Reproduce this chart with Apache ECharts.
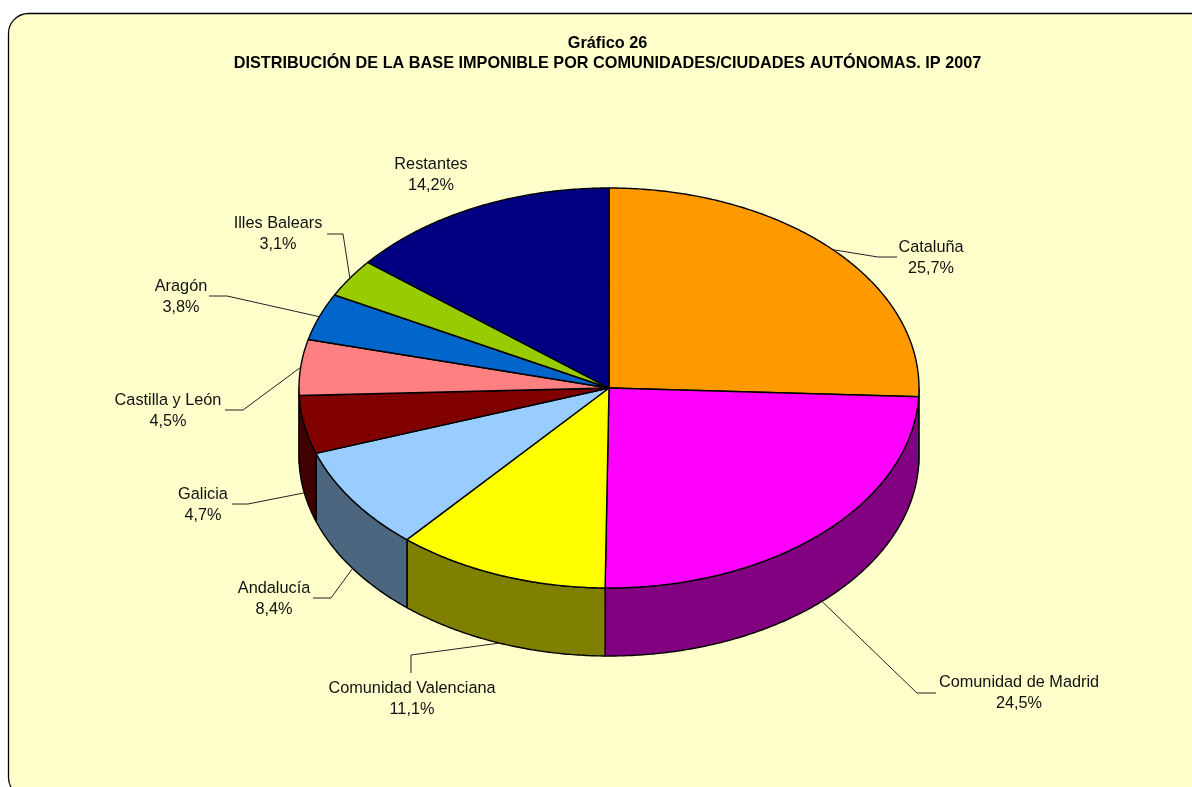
<!DOCTYPE html>
<html>
<head>
<meta charset="utf-8">
<style>html,body{margin:0;padding:0;background:#fff;overflow:hidden}#c{width:1192px;height:787px}</style>
<script src="https://cdn.jsdelivr.net/npm/echarts@6/dist/echarts.min.js"></script>
</head>
<body>
<div id="c"></div>
<script>
var titleLines = ['Gráfico 26', 'DISTRIBUCIÓN DE LA BASE IMPONIBLE POR COMUNIDADES/CIUDADES AUTÓNOMAS. IP 2007'];
var categories = ['Cataluña', 'Comunidad de Madrid', 'Comunidad Valenciana', 'Andalucía', 'Galicia', 'Castilla y León', 'Aragón', 'Illes Balears', 'Restantes'];
var shares = [25.7, 24.5, 11.1, 8.4, 4.7, 4.5, 3.8, 3.1, 14.2];
var shareLabels = ['25,7%', '24,5%', '11,1%', '8,4%', '4,7%', '4,5%', '3,8%', '3,1%', '14,2%'];

// styling and layout, kept apart from the values
var topColors = ['#FF9900', '#FF00FF', '#FFFF00', '#99CCFF', '#800000', '#FF8080', '#0066CC', '#99CC00', '#000080'];
var sideColors = ['#804D00', '#800080', '#808000', '#4D6680', '#400000', '#804040', '#003366', '#4D6600', '#000040'];
var pie = { cx: 609, cy: 388, rx: 310, ry: 200, depth: 68 };
// label centre and leader bends for each slice
var labelPos = [[931, 258], [1019, 693], [412, 699], [274, 599], [203, 505], [168, 411], [181, 297], [278, 234], [431, 175]];
var leaderBends = [
  [[878, 257], [897, 257]],
  [[917, 693], [936, 693]],
  [[411, 655], [411, 673]],
  [[331, 598], [313, 598]],
  [[248, 504], [232, 504]],
  [[243, 410], [225, 410]],
  [[227, 296], [209, 296]],
  [[343, 234], [327, 234]],
  null
];

var total = shares.reduce(function (a, b) { return a + b; }, 0);
function startAngle(i) {
  var s = 0;
  for (var k = 0; k < i; k++) s += shares[k];
  return s / total * 360;
}
function rim(deg, dy) {
  var r = deg * Math.PI / 180;
  return [pie.cx + pie.rx * Math.sin(r), pie.cy - pie.ry * Math.cos(r) + (dy || 0)];
}
function arc(a0, a1, dy) {
  var pts = [], n = Math.max(2, Math.ceil((a1 - a0) * 2));
  for (var j = 0; j <= n; j++) pts.push(rim(a0 + (a1 - a0) * j / n, dy));
  return pts;
}
var rows = shares.map(function (v, i) { return [i, v]; });

function renderSide(params, api) {
  var i = api.value(0), a0 = startAngle(i), a1 = a0 + api.value(1) / total * 360;
  var from = Math.max(a0, 90), to = Math.min(a1, 270);
  if (to <= from) return { type: 'group', children: [] };
  var pts = arc(from, to, 0).concat(arc(from, to, pie.depth).reverse());
  return { type: 'polygon', shape: { points: pts },
    style: { fill: sideColors[i], stroke: '#000', lineWidth: 1.4, lineJoin: 'round' } };
}
function renderTop(params, api) {
  var i = api.value(0), a0 = startAngle(i), a1 = a0 + api.value(1) / total * 360;
  var pts = [[pie.cx, pie.cy]].concat(arc(a0, a1, 0));
  return { type: 'polygon', shape: { points: pts },
    style: { fill: topColors[i], stroke: '#000', lineWidth: 1.4, lineJoin: 'round' } };
}
function renderLabel(params, api) {
  var i = api.value(0), a0 = startAngle(i), mid = a0 + api.value(1) / total * 360 / 2;
  var children = [{
    type: 'text',
    style: {
      x: labelPos[i][0], y: labelPos[i][1],
      text: categories[i] + '\n' + shareLabels[i],
      fill: '#111',
      font: '16.3px "Liberation Sans", Arial, sans-serif', lineHeight: 21.5,
      align: 'center', verticalAlign: 'middle'
    }
  }];
  if (leaderBends[i]) {
    var onFront = mid > 90 && mid < 270;
    var start = rim(mid, onFront ? pie.depth : 0);
    children.push({
      type: 'polyline',
      shape: { points: [start].concat(leaderBends[i]) },
      style: { fill: null, stroke: '#222', lineWidth: 1 }
    });
  }
  return { type: 'group', children: children };
}

var chart = echarts.init(document.getElementById('c'), null, { renderer: 'canvas' });
chart.setOption({
  animation: false,
  backgroundColor: '#ffffff',
  title: {
    text: titleLines.join('\n'),
    left: 602.5, top: 29, textAlign: 'center',
    textStyle: { fontFamily: '"Liberation Sans", Arial, sans-serif', fontSize: 16.25, fontWeight: 'bold', color: '#000', lineHeight: 20 }
  },
  graphic: [{
    type: 'rect', z: -10, silent: true,
    shape: { x: 8.5, y: 13.5, width: 1220, height: 784, r: 20 },
    style: { fill: '#FFFFCC', stroke: '#000', lineWidth: 1.3 }
  }],
  series: [
    { type: 'custom', name: 'Lateral', coordinateSystem: 'none', z: 1, silent: true, data: rows, renderItem: renderSide },
    { type: 'custom', name: 'Base imponible', coordinateSystem: 'none', z: 2, silent: true, data: rows, renderItem: renderTop },
    { type: 'custom', name: 'Etiquetas', coordinateSystem: 'none', z: 3, silent: true, data: rows, renderItem: renderLabel }
  ]
});
</script>
</body>
</html>
